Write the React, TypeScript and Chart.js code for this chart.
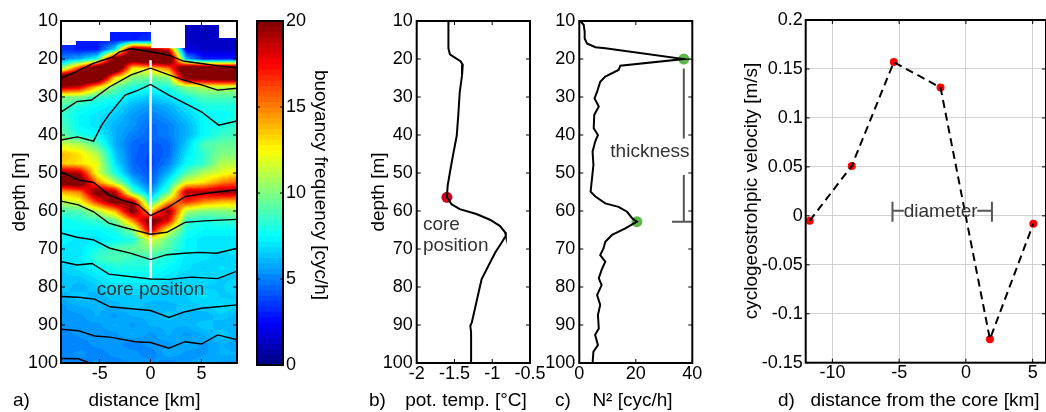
import React, { useEffect, useRef } from 'react';
import { Chart, registerables } from 'chart.js';

Chart.register(...registerables);

const FONT = '"Liberation Sans", Arial, Helvetica, sans-serif';

// ---------------- panel a : buoyancy frequency section ----------------
const fieldDist = [-8.8, -7, -5.25, -3.5, -1.75, 0, 1.75, 3.5, 5.25, 7, 8.8];
const fieldDepth = [10, 12.5, 15, 17.5, 20, 22.5, 25, 27.5, 30, 32.5, 35, 37.5, 40, 42.5, 45, 47.5, 50, 52.5, 55, 57.5, 60, 62.5, 65, 67.5, 70, 72.5, 75, 77.5, 80, 82.5, 85, 87.5, 90, 92.5, 95, 97.5, 100];
const fieldN = [
  [3, 3, 3, 3, 3, 3, 2, 1.5, 1.2, 1.5, 1.5],
  [3, 3, 3, 3, 3, 3, 2, 1.5, 1.2, 1.5, 1.5],
  [3.5, 3, 3, 3, 3, 3.5, 3, 1.5, 1.2, 1.5, 1.5],
  [3.5, 3, 3, 7, 22, 20, 18, 2, 1.5, 1.5, 1.5],
  [5, 6, 8, 22, 22, 24, 24, 6, 3, 3, 3],
  [10, 17, 24, 24, 12.5, 13, 15, 24, 24, 24, 24],
  [24, 24, 24, 13, 10, 9.5, 10, 21, 21, 22, 22],
  [19, 18, 13, 9.5, 8, 8, 8, 10, 11, 11, 11],
  [10, 10, 8.5, 8, 7, 6.5, 7, 8, 9, 9, 9],
  [9, 8, 7.5, 7, 6, 5.5, 6, 7, 8, 8, 8],
  [8.5, 7.5, 7, 6.5, 5.5, 5, 5.5, 6.5, 7.5, 7.5, 8],
  [9, 7.5, 7, 6, 5.5, 4.5, 5, 6, 7.5, 8, 8.5],
  [9.5, 8, 7.5, 6, 5, 4.5, 5, 6, 7.5, 8.5, 9],
  [11.5, 11, 9, 6, 4.5, 4.2, 4.5, 6.5, 9, 9.5, 9.5],
  [14, 13, 11, 6.5, 4.5, 4, 4.5, 7, 8.5, 10, 10],
  [13.5, 13, 12, 7, 4.5, 3.8, 5, 7.5, 8.5, 11, 11],
  [20, 19, 12, 8, 5, 4, 6, 9, 11, 12, 13],
  [21, 22, 15, 11, 6.5, 4.2, 7.5, 12, 13, 15, 16],
  [14, 15, 21, 19, 9, 5.5, 9, 19, 19, 20, 19],
  [11, 12, 17, 21, 19, 7.5, 14, 17, 15, 14, 14],
  [9, 9, 11, 14, 21, 13, 20, 11, 10, 10, 10.5],
  [7.5, 8, 8.5, 9.5, 15, 21, 18, 8.5, 8, 8.5, 8.5],
  [7.5, 7.5, 7.5, 8, 10, 19, 12, 8, 7.5, 7.5, 7.5],
  [7.5, 7, 7, 7.5, 8, 12, 9.5, 7.5, 7, 7, 7],
  [7, 7, 8, 9, 9.5, 10, 9, 7.5, 7, 7, 7],
  [7, 7, 8.5, 9, 8.5, 8.5, 8, 7, 7, 6.5, 7],
  [6.5, 7, 7.5, 8, 8, 8, 7.5, 7, 6.5, 7, 6.5],
  [6.5, 6.5, 7, 7.5, 7.5, 7.5, 7, 6.5, 7, 6.5, 6.5],
  [6.5, 6, 6.5, 7, 7, 7, 6.5, 7, 6.5, 6.5, 7],
  [6, 6.5, 6, 6.5, 6.5, 6.5, 6.5, 6.5, 7, 6.5, 6.5],
  [5.5, 6, 6, 6, 6.5, 6, 6, 6.5, 6.5, 7, 6.5],
  [5.5, 5.5, 6, 5.5, 6, 6, 6.5, 6, 6, 6.5, 6],
  [5.5, 5.5, 5.5, 6, 5.5, 6, 6, 6, 6.5, 6, 6],
  [5, 5.5, 5.5, 5.5, 6, 5.5, 6, 5.5, 6, 6.5, 6],
  [5, 5, 5.5, 5.5, 5, 5.5, 5.5, 6, 5.5, 6, 5.5],
  [5, 5.5, 5, 5.5, 5.5, 5, 6, 5.5, 5.5, 6, 6],
  [5, 5, 5.5, 5, 5.5, 5.5, 5, 5.5, 6, 5.5, 5.5],
];
// no-data (white) area at the top of the section
const maskEdges = [-7.3, -4.0, 0, 3.4, 6.7];
const maskTop = [16.3, 15.3, 13, 17.2, 11, 14.6];
// isolines drawn over the section: [distance km, depth m]
const contourLines = [
  [[-8.8, 25], [-7.2, 23.2], [-5.7, 21.2], [-4.8, 20.4], [-3.8, 19.6], [-3.1, 18.2], [-2.0, 17.3], [0, 18.1], [1.8, 19.0], [3.3, 20.6], [5.0, 21.2], [6.7, 21.8], [8.5, 22.3]],
  [[-8.8, 34], [-7.25, 31.2], [-5.8, 30.8], [-4.0, 27.3], [-1.9, 24.2], [0, 22.4], [1.4, 23.8], [3.2, 25.5], [5.0, 26.8], [6.6, 28.2], [8.5, 27.7]],
  [[-8.8, 41.3], [-7.2, 40.5], [-5.6, 41.6], [-4.8, 37.4], [-4.1, 34.7], [-2.5, 29.5], [-1.2, 28.2], [0, 26.7], [1.8, 29.5], [3.4, 31.7], [5.0, 33.9], [6.7, 37.4], [8.5, 36.3]],
  [[-8.8, 49.7], [-7.1, 51.8], [-5.6, 52.5], [-4.1, 55.8], [-2.5, 57.4], [-1.2, 58.4], [0, 61.2], [1.8, 58.9], [3.4, 56.2], [5.3, 55.4], [8.5, 54.4]],
  [[-8.8, 57.4], [-7.1, 58.4], [-5.6, 60.2], [-4.1, 63.2], [-2.5, 64.4], [-1.2, 65.3], [0, 66.1], [1.6, 65.6], [3.4, 63.0], [5.3, 62.6], [8.5, 62.2]],
  [[-8.8, 65.8], [-7.25, 66.9], [-5.6, 67.6], [-4.0, 69.8], [-2.0, 71.1], [0, 72.8], [1.6, 71.5], [3.3, 71.1], [4.8, 70.9], [6.5, 71.1], [8.5, 69.8]],
  [[-8.8, 73.3], [-7.25, 74.2], [-5.75, 73.8], [-4.1, 76.6], [0, 77.9], [1.8, 78], [4.0, 77.4], [6.6, 77.8], [8.5, 75.8]],
  [[-8.8, 82.5], [-7.1, 82.7], [-5.5, 83.2], [-4.0, 85.2], [0, 86.2], [1.8, 88.0], [3.4, 86.5], [5.0, 85.6], [6.6, 85.2], [8.5, 84.7]],
  [[-8.8, 91.1], [-7.1, 91.5], [-5.5, 92.9], [-4.0, 93.2], [-1.5, 94.4], [0, 94.6], [1.8, 96.1], [3.4, 94.4], [5.0, 95.0], [6.6, 92.6], [8.5, 93.9]],
  [[-8.8, 98.8], [-7.1, 98.9], [-5.75, 100.2]],
];
const coreLineDepth = [20.3, 77.6];
const sectionDistTicks = [-5, 0, 5];
const depthTicks = [10, 20, 30, 40, 50, 60, 70, 80, 90, 100];
const colorbarTicks = [0, 5, 10, 15, 20];

// ---------------- panel b : potential temperature ----------------
const tempDepth = [10, 17.2, 18.8, 19.7, 20.6, 21.5, 24.3, 28.7, 34.9, 40.2, 45.4, 49.8, 53.3, 56.4, 58.2, 59.5, 60.8, 62.3, 63.9, 65.6, 66.5, 68.3, 70.9, 74.4, 77.9, 81.4, 85.8, 89.3, 90.2, 92, 100];
const tempValue = [-1.58, -1.58, -1.56, -1.49, -1.42, -1.39, -1.40, -1.43, -1.45, -1.47, -1.52, -1.56, -1.59, -1.60, -1.54, -1.43, -1.21, -1.03, -0.90, -0.83, -0.82, -0.875, -0.96, -1.05, -1.14, -1.18, -1.23, -1.27, -1.29, -1.28, -1.28];
const coreMarkTemp = [-1.6];
const coreMarkDepth = [56.4];
const tempTicks = [-2, -1.5, -1, -0.5];

// ---------------- panel c : N^2 ----------------
const n2Depth = [10, 11, 12.8, 14.6, 15.9, 16.9, 17.2, 20, 21.75, 22.9, 24.6, 26, 28.6, 30.4, 32.5, 34.7, 38.2, 40, 41.8, 44.4, 47.9, 51.4, 54.9, 56.2, 58, 58.9, 60.2, 61.9, 62.8, 64.6, 66.3, 68.1, 69.8, 71.6, 73.3, 75.5, 77.7, 79.5, 82.1, 84.7, 87.4, 90.9, 92.6, 95.3, 97, 100];
const n2Value = [0.35, 1.55, 1.9, 1.9, 2.7, 5.7, 9.2, 37, 14.5, 13.9, 9.2, 7.4, 6.3, 5.4, 6.9, 5.3, 5.1, 6.6, 5.6, 4.7, 5.0, 4.5, 4.0, 5.7, 9.2, 13.9, 16.9, 18.7, 20.4, 16.3, 11.6, 9.2, 8.6, 7.4, 9.2, 7.9, 6.9, 7.9, 6.3, 7.4, 6.6, 6.9, 5.6, 6.6, 5.0, 4.7];
const n2PeakValue = [37, 20.4];
const n2PeakDepth = [20, 62.8];
const n2Ticks = [0, 20, 40];

// ---------------- panel d : cyclogeostrophic velocity ----------------
const coreDist = [-11.7, -8.55, -5.4, -1.9, 1.8, 5.05];
const velocity = [-0.005, 0.051, 0.157, 0.131, -0.126, -0.008];
const coreDistTicks = [-10, -5, 0, 5];
const velocityTicks = [-0.15, -0.1, -0.05, 0, 0.05, 0.1, 0.15, 0.2];

// ---------------- helpers ----------------
const LEVELS = 64;
const CB_MIN = 0;
const CB_MAX = 20;
const TICK_FONT = 18;

function jet(t: number): number[] {
  const c = (v: number) => Math.max(0, Math.min(1, v));
  return [
    c(Math.min(4 * t - 1.5, -4 * t + 4.5)),
    c(Math.min(4 * t - 0.5, -4 * t + 3.5)),
    c(Math.min(4 * t + 0.5, -4 * t + 2.5)),
  ].map((v) => Math.round(v * 255));
}
function levelColor(i: number) {
  return jet((i + 0.5) / LEVELS);
}
function valueColor(v: number) {
  let i = Math.floor(((v - CB_MIN) / (CB_MAX - CB_MIN)) * LEVELS);
  if (i < 0) i = 0;
  if (i > LEVELS - 1) i = LEVELS - 1;
  return levelColor(i);
}
function bracket(arr: number[], v: number): [number, number] {
  if (v <= arr[0]) return [0, 0];
  if (v >= arr[arr.length - 1]) return [arr.length - 2, 1];
  let i = 0;
  while (arr[i + 1] < v) i++;
  return [i, (v - arr[i]) / (arr[i + 1] - arr[i])];
}
function sampleField(km: number, d: number) {
  const [ci, cf] = bracket(fieldDist, km);
  const [ri, rf] = bracket(fieldDepth, d);
  const a = fieldN[ri][ci], b = fieldN[ri][ci + 1];
  const c = fieldN[ri + 1][ci], e = fieldN[ri + 1][ci + 1];
  return (a * (1 - cf) + b * cf) * (1 - rf) + (c * (1 - cf) + e * cf) * rf;
}
function maskTopAt(km: number) {
  let s = 0;
  while (s < maskEdges.length && km > maskEdges[s]) s++;
  return maskTop[s];
}
function fmt(v: number) {
  const r = Math.round(v * 100) / 100;
  return String(Object.is(r, -0) ? 0 : r);
}

type Txt = { text: string; x: number; y: number; rot?: number; size?: number; color?: string; align?: string; base?: string };

function drawText(ctx: any, t: Txt) {
  ctx.save();
  ctx.translate(t.x, t.y);
  if (t.rot) ctx.rotate(t.rot);
  ctx.font = `${t.size ?? 19}px ${FONT}`;
  ctx.fillStyle = t.color ?? '#000';
  ctx.textAlign = t.align ?? 'center';
  ctx.textBaseline = t.base ?? 'alphabetic';
  ctx.fillText(t.text, 0, 0);
  ctx.restore();
}

function axis(o: any) {
  return {
    type: 'linear',
    position: o.position ?? (o.horizontal ? 'bottom' : 'left'),
    display: o.display ?? true,
    min: o.min,
    max: o.max,
    reverse: !!o.reverse,
    afterBuildTicks: (s: any) => {
      s.ticks = o.ticks.map((v: number) => ({ value: v }));
    },
    afterFit: (s: any) => {
      if (o.horizontal) s.height = o.size;
      else s.width = o.size;
      s.paddingLeft = 0;
      s.paddingRight = 0;
      s.paddingTop = 0;
      s.paddingBottom = 0;
    },
    grid: { display: !!o.grid, drawOnChartArea: !!o.grid, drawTicks: false, color: '#d2d2d2', lineWidth: 1 },
    border: { display: false },
    ticks: {
      color: '#000',
      font: { family: FONT, size: TICK_FONT },
      padding: o.pad,
      maxRotation: 0,
      minRotation: 0,
      autoSkip: false,
      callback: (v: number) => fmt(v),
    },
    title: { display: false },
  };
}

function framePlugin(tickLen: number) {
  return {
    id: 'frame',
    afterDraw(chart: any) {
      const { ctx, chartArea: a } = chart;
      const xs = chart.scales.x;
      const ys = chart.scales.y;
      ctx.save();
      ctx.strokeStyle = '#000';
      ctx.lineWidth = 1;
      ctx.beginPath();
      if (xs && xs.options.display !== false) {
        for (const t of xs.ticks) {
          const p = xs.getPixelForValue(t.value);
          ctx.moveTo(p, a.bottom);
          ctx.lineTo(p, a.bottom - tickLen);
          ctx.moveTo(p, a.top);
          ctx.lineTo(p, a.top + tickLen);
        }
      }
      if (ys) {
        for (const t of ys.ticks) {
          const p = ys.getPixelForValue(t.value);
          ctx.moveTo(a.left, p);
          ctx.lineTo(a.left + tickLen, p);
          ctx.moveTo(a.right, p);
          ctx.lineTo(a.right - tickLen, p);
        }
      }
      ctx.stroke();
      ctx.lineWidth = 2;
      ctx.strokeRect(a.left, a.top, a.right - a.left, a.bottom - a.top);
      ctx.restore();
    },
  };
}

function textPlugin(left: number, items: Txt[]) {
  return {
    id: 'texts',
    afterDraw(chart: any) {
      for (const t of items) drawText(chart.ctx, { ...t, x: t.x - left });
    },
  };
}

// annotations given in data coordinates
function notePlugin(notes: any[], segs: number[][], segColor: string) {
  return {
    id: 'notes',
    afterDatasetsDraw(chart: any) {
      const { ctx } = chart;
      const xs = chart.scales.x, ys = chart.scales.y;
      ctx.save();
      ctx.strokeStyle = segColor;
      ctx.lineWidth = 2;
      ctx.beginPath();
      for (const s of segs) {
        ctx.moveTo(xs.getPixelForValue(s[0]), ys.getPixelForValue(s[1]));
        ctx.lineTo(xs.getPixelForValue(s[2]), ys.getPixelForValue(s[3]));
      }
      ctx.stroke();
      ctx.restore();
      for (const n of notes) {
        drawText(ctx, { ...n, x: xs.getPixelForValue(n.x), y: ys.getPixelForValue(n.y) });
      }
    },
  };
}

const heatPlugin = {
  id: 'heat',
  beforeDatasetsDraw(chart: any) {
    const { ctx, chartArea: a } = chart;
    const xs = chart.scales.x, ys = chart.scales.y;
    const L = Math.floor(a.left), T = Math.floor(a.top);
    const W = Math.ceil(a.right) - L, H = Math.ceil(a.bottom) - T;
    const img = ctx.createImageData(W, H);
    for (let j = 0; j < H; j++) {
      const d = ys.getValueForPixel(T + j + 0.5);
      for (let i = 0; i < W; i++) {
        const km = xs.getValueForPixel(L + i + 0.5);
        const k = (j * W + i) * 4;
        const rgb = d < maskTopAt(km) ? [255, 255, 255] : valueColor(sampleField(km, d));
        img.data[k] = rgb[0];
        img.data[k + 1] = rgb[1];
        img.data[k + 2] = rgb[2];
        img.data[k + 3] = 255;
      }
    }
    ctx.putImageData(img, L, T);
  },
};

const colorbarPlugin = {
  id: 'cbar',
  beforeDatasetsDraw(chart: any) {
    const { ctx, chartArea: a } = chart;
    const ys = chart.scales.y;
    for (let i = 0; i < LEVELS; i++) {
      const y0 = ys.getPixelForValue(CB_MIN + (i * (CB_MAX - CB_MIN)) / LEVELS);
      const y1 = ys.getPixelForValue(CB_MIN + ((i + 1) * (CB_MAX - CB_MIN)) / LEVELS);
      const [r, g, b] = levelColor(i);
      ctx.fillStyle = `rgb(${r},${g},${b})`;
      ctx.fillRect(a.left, Math.min(y0, y1) - 0.5, a.right - a.left, Math.abs(y1 - y0) + 1);
    }
  },
};

const baseOptions = (padding: any, scales: any) => ({
  responsive: false,
  animation: false,
  devicePixelRatio: 1,
  events: [],
  layout: { padding },
  plugins: { legend: { display: false }, tooltip: { enabled: false }, title: { display: false } },
  scales,
});

const zip = (xs: number[], ys: number[]) => xs.map((x, i) => ({ x, y: ys[i] }));

// ---------------- chart configs ----------------
function configA(left: number) {
  return {
    type: 'scatter',
    data: {
      datasets: [
        ...contourLines.map((line) => ({
          data: line.map(([x, y]) => ({ x, y })),
          showLine: true,
          borderColor: '#000',
          borderWidth: 1.4,
          pointRadius: 0,
          fill: false,
        })),
        {
          data: coreLineDepth.map((y) => ({ x: 0, y })),
          showLine: true,
          borderColor: '#fff',
          borderWidth: 2.5,
          pointRadius: 0,
        },
      ],
    },
    options: baseOptions({ left: 0, right: 8, top: 21, bottom: 0 }, {
      x: axis({ min: -8.8, max: 8.5, ticks: sectionDistTicks, horizontal: true, size: 49, pad: 0 }),
      y: axis({ min: 10, max: 100, ticks: depthTicks, reverse: true, size: 61, pad: 3 }),
    }),
    plugins: [
      heatPlugin,
      notePlugin([{ text: 'core position', x: 0, y: 82.1, color: '#333' }], [], '#555'),
      framePlugin(4),
      textPlugin(left, [
        { text: 'a)', x: 13, y: 406, align: 'left' },
        { text: 'distance [km]', x: 144.5, y: 406 },
        { text: 'depth [m]', x: 19.5, y: 192, rot: -Math.PI / 2, base: 'middle' },
      ]),
    ],
  };
}

function configCB(left: number) {
  return {
    type: 'scatter',
    data: { datasets: [] },
    options: baseOptions({ left: 12, right: 0, top: 21, bottom: 47 }, {
      x: { type: 'linear', display: false, min: 0, max: 1 },
      y: axis({ min: CB_MIN, max: CB_MAX, ticks: colorbarTicks, position: 'right', size: 62, pad: 3 }),
    }),
    plugins: [
      colorbarPlugin,
      framePlugin(3),
      textPlugin(left, [
        { text: 'buoyancy frequency [cyc/h]', x: 320, y: 185, rot: Math.PI / 2, base: 'middle' },
      ]),
    ],
  };
}

function configB(left: number) {
  return {
    type: 'scatter',
    data: {
      datasets: [
        { data: zip(tempValue, tempDepth), showLine: true, borderColor: '#000', borderWidth: 2, pointRadius: 0 },
        { data: zip(coreMarkTemp, coreMarkDepth), showLine: false, pointRadius: 5.5, pointBackgroundColor: '#d0001e', pointBorderColor: '#d0001e', pointBorderWidth: 0 },
      ],
    },
    options: baseOptions({ left: 0, right: 16, top: 21, bottom: 0 }, {
      x: axis({ min: -2, max: -0.5, ticks: tempTicks, horizontal: true, size: 49, pad: 0 }),
      y: axis({ min: 10, max: 100, ticks: depthTicks, reverse: true, size: 71.7, pad: 4 }),
    }),
    plugins: [
      notePlugin([
        { text: 'core', x: -1.917, y: 65, color: '#333', align: 'left' },
        { text: 'position', x: -1.917, y: 70.4, color: '#333', align: 'left' },
      ], [], '#555'),
      framePlugin(4),
      textPlugin(left, [
        { text: 'b)', x: 369, y: 406, align: 'left' },
        { text: 'pot. temp. [°C]', x: 466, y: 406 },
        { text: 'depth [m]', x: 379, y: 192, rot: -Math.PI / 2, base: 'middle' },
      ]),
    ],
  };
}

function configC(left: number) {
  return {
    type: 'scatter',
    data: {
      datasets: [
        { data: zip(n2Value, n2Depth), showLine: true, borderColor: '#000', borderWidth: 2, pointRadius: 0 },
        { data: zip(n2PeakValue, n2PeakDepth), showLine: false, pointRadius: 5.5, pointBackgroundColor: '#5db848', pointBorderColor: '#5db848', pointBorderWidth: 0 },
      ],
    },
    options: baseOptions({ left: 0, right: 12.7, top: 21, bottom: 0 }, {
      x: axis({ min: 0, max: 40, ticks: n2Ticks, horizontal: true, size: 49, pad: 0 }),
      y: axis({ min: 10, max: 100, ticks: depthTicks, reverse: true, size: 39.3, pad: 4 }),
    }),
    plugins: [
      notePlugin(
        [{ text: 'thickness', x: 25, y: 45.8, color: '#333' }],
        [[37, 22.5, 37, 40.9], [37, 50.5, 37, 62.8], [32.8, 62.8, 40, 62.8]],
        '#555'
      ),
      framePlugin(4),
      textPlugin(left, [
        { text: 'c)', x: 555, y: 406, align: 'left' },
        { text: 'N² [cyc/h]', x: 632.5, y: 406 },
      ]),
    ],
  };
}

function configD(left: number) {
  return {
    type: 'scatter',
    data: {
      datasets: [
        { data: zip(coreDist, velocity), showLine: true, borderColor: '#000', borderWidth: 2, borderDash: [8, 5], pointRadius: 0 },
        { data: zip(coreDist, velocity), showLine: false, pointRadius: 4, pointBackgroundColor: '#ff0000', pointBorderColor: '#ff0000', pointBorderWidth: 0 },
      ],
    },
    options: baseOptions({ left: 0, right: 2.5, top: 20, bottom: 0 }, {
      x: axis({ min: -12, max: 6, ticks: coreDistTicks, horizontal: true, size: 49.3, pad: 0, grid: true }),
      y: axis({ min: -0.15, max: 0.2, ticks: velocityTicks, size: 100.7, pad: 3, grid: true }),
    }),
    plugins: [
      notePlugin(
        [{ text: 'diameter', x: -1.89, y: -0.001, color: '#333' }],
        [[-5.5, -0.006, -5.5, 0.0144], [-5.5, 0.0052, -4.65, 0.0052], [0.85, 0.0052, 1.95, 0.0052], [1.95, -0.006, 1.95, 0.0144]],
        '#555'
      ),
      framePlugin(4),
      textPlugin(left, [
        { text: 'd)', x: 778, y: 406, align: 'left' },
        { text: 'distance from the core [km]', x: 925, y: 406 },
        { text: 'cyclogeostrohpic velocity [m/s]', x: 751.7, y: 191, rot: -Math.PI / 2, base: 'middle' },
      ]),
    ],
  };
}

function ChartCanvas({ left, width, make }: { left: number; width: number; make: (l: number) => any }) {
  const ref = useRef<HTMLCanvasElement>(null);
  useEffect(() => {
    const chart = new Chart(ref.current as any, make(left));
    return () => chart.destroy();
  }, []);
  return (
    <canvas
      ref={ref}
      width={width}
      height={412}
      style={{ position: 'absolute', left, top: 0, width, height: 412 }}
    />
  );
}

export default function App() {
  return (
    <div style={{ position: 'absolute', left: 0, top: 0, width: 1046, height: 412, overflow: 'hidden', background: '#fff' }}>
      <ChartCanvas left={0} width={245} make={configA} />
      <ChartCanvas left={245} width={100} make={configCB} />
      <ChartCanvas left={345} width={201} make={configB} />
      <ChartCanvas left={540} width={165} make={configC} />
      <ChartCanvas left={705} width={345} make={configD} />
    </div>
  );
}
